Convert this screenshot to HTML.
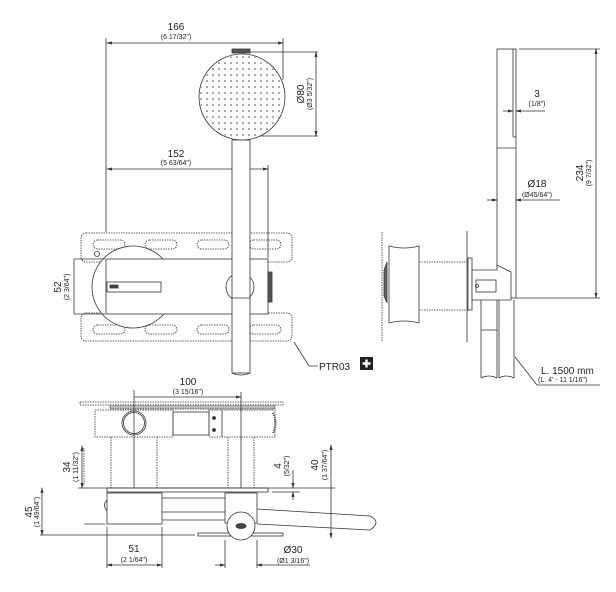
<!DOCTYPE html>
<html><head><meta charset="utf-8"><style>
html,body{margin:0;padding:0;background:#fff}
svg{display:block}
text{font-family:"Liberation Sans",sans-serif;fill:#222}
.t{font-size:10px}.s{font-size:7px}
</style></head><body>
<svg width="616" height="592" viewBox="0 0 616 592" xmlns="http://www.w3.org/2000/svg">
<defs>
<marker id="a" markerWidth="6" markerHeight="6" refX="5" refY="3" orient="auto-start-reverse" markerUnits="userSpaceOnUse"><path d="M0,1.5 L6,3 L0,4.5z" fill="#333"/></marker>
<pattern id="dots" width="6" height="6" patternUnits="userSpaceOnUse"><circle cx="3" cy="3" r="0.8" fill="#444"/></pattern>
<clipPath id="hc"><circle cx="242" cy="97" r="42"/></clipPath>
</defs>
<g stroke="#333" stroke-width="0.8" fill="none">
<!-- TOP VIEW -->
<line x1="106" y1="38" x2="106" y2="232"/>
<line x1="283" y1="38" x2="283" y2="80"/>
<line x1="107" y1="43" x2="283" y2="43" marker-start="url(#a)" marker-end="url(#a)"/>
<line x1="268" y1="165" x2="268" y2="258"/>
<line x1="107" y1="169" x2="268" y2="169" marker-start="url(#a)" marker-end="url(#a)"/>
<line x1="250" y1="52" x2="318" y2="52"/><line x1="250" y1="136" x2="318" y2="136"/>
<line x1="316" y1="52" x2="316" y2="136" marker-start="url(#a)" marker-end="url(#a)"/>
<rect x="232" y="49" width="18" height="4" fill="#555"/>
<circle cx="242" cy="97" r="43" fill="#fff"/>
<rect x="199" y="54" width="86" height="86" fill="url(#dots)" clip-path="url(#hc)" stroke="none"/>
<!-- plates -->
<rect x="81" y="233" width="211" height="29" rx="5" stroke-dasharray="1.5 1"/>
<rect x="81" y="313" width="211" height="28" rx="5" stroke-dasharray="1.5 1"/>
<g stroke-dasharray="1.5 1">
<rect x="93" y="240" width="32" height="9" rx="4.5"/><rect x="145" y="240" width="32" height="9" rx="4.5"/><rect x="197" y="240" width="32" height="9" rx="4.5"/><rect x="249" y="240" width="32" height="9" rx="4.5"/>
<rect x="93" y="325" width="32" height="9" rx="4.5"/><rect x="145" y="325" width="32" height="9" rx="4.5"/><rect x="197" y="325" width="32" height="9" rx="4.5"/><rect x="249" y="325" width="32" height="9" rx="4.5"/>
</g>
<circle cx="97" cy="254" r="2.5"/>
<circle cx="133" cy="287" r="41" fill="#fff"/>
<rect x="106" y="259" width="162" height="55" fill="#fff"/>
<rect x="107" y="282" width="54" height="10"/>
<rect x="110" y="285" width="8" height="3" fill="#444"/>
<rect x="268" y="272" width="4" height="30" fill="#555"/>
<circle cx="240" cy="287" r="14" fill="#fff"/>
<rect x="232" y="140" width="18" height="233" fill="#fff"/>
<path d="M232,298 L250,298"/>
<path d="M232,373 Q241,377 250,373"/>
<line x1="74" y1="259" x2="105" y2="259"/><line x1="74" y1="314" x2="105" y2="314"/>
<line x1="74" y1="259" x2="74" y2="314"/>
<path d="M294,342 L309,366 L318,366"/>
<!-- SIDE VIEW -->
<line x1="382" y1="232" x2="382" y2="342" stroke-dasharray="1.5 1"/>
<path d="M384,270 L387,262 L387,303 L384,296z" fill="#666"/>
<path d="M389,246 Q404,250 419,246 L419,323 Q404,319 389,323z" fill="#fff"/>
<line x1="419" y1="262" x2="468" y2="262" stroke-dasharray="1.5 1"/>
<line x1="419" y1="310" x2="468" y2="310" stroke-dasharray="1.5 1"/>
<line x1="467" y1="231" x2="467" y2="342"/>
<rect x="468" y="258" width="4" height="52"/>
<rect x="497" y="49" width="19" height="249" fill="#fff"/>
<line x1="513" y1="49" x2="513" y2="137"/><line x1="513" y1="137" x2="516" y2="137"/>
<line x1="497" y1="148" x2="516" y2="148"/>
<path d="M472,270 L497,270 L497,265 L511,272 L511,300 L472,300z" fill="#fff"/>
<rect x="476" y="280" width="20" height="12"/>
<circle cx="477" cy="286" r="1.5"/>
<path d="M481,300 L481,378 M497,300 L497,378 M499,300 L499,378 M514,300 L514,378"/>
<path d="M481,378 Q489,374 497,378 M499,378 Q506,374 514,378"/>
<line x1="481" y1="330" x2="497" y2="330"/>
<line x1="519" y1="49" x2="600" y2="49"/><line x1="516" y1="298" x2="600" y2="298"/>
<line x1="596" y1="49" x2="596" y2="298" marker-start="url(#a)" marker-end="url(#a)"/>
<line x1="503" y1="111" x2="513" y2="111" marker-end="url(#a)"/>
<line x1="516" y1="111" x2="545" y2="111" marker-start="url(#a)"/>
<line x1="487" y1="200" x2="497" y2="200" marker-end="url(#a)"/>
<line x1="516" y1="200" x2="560" y2="200" marker-start="url(#a)"/>
<path d="M515,357 L537,385 L600,385"/>
<!-- BOTTOM VIEW -->
<rect x="80" y="402" width="203" height="3" stroke-dasharray="1.5 1"/>
<rect x="110" y="405" width="165" height="4" fill="#bbb" stroke-dasharray="1.5 1"/>
<rect x="95" y="410" width="78" height="27" stroke-dasharray="1.5 1"/>
<rect x="173" y="412" width="36" height="23"/>
<rect x="209" y="410" width="66" height="27" stroke-dasharray="1.5 1"/>
<line x1="222" y1="410" x2="222" y2="437"/>
<circle cx="214" cy="418" r="1.5" fill="#333"/><circle cx="214" cy="430" r="1.5" fill="#333"/>
<path d="M273,413 Q278,423 273,433" stroke-width="2" stroke-dasharray="1 1"/>
<circle cx="134" cy="423" r="12"/><circle cx="134" cy="423" r="10.5"/>
<line x1="111" y1="437" x2="111" y2="488" stroke-dasharray="1.5 1"/>
<line x1="157" y1="437" x2="157" y2="488" stroke-dasharray="1.5 1"/>
<line x1="228" y1="437" x2="228" y2="488" stroke-dasharray="1.5 1"/>
<line x1="254" y1="437" x2="254" y2="488" stroke-dasharray="1.5 1"/>
<line x1="134" y1="390" x2="134" y2="488"/>
<line x1="241" y1="392" x2="241" y2="488"/>
<line x1="134" y1="397" x2="241" y2="397" marker-end="url(#a)"/>
<line x1="78" y1="488" x2="335" y2="488"/>
<rect x="107" y="488" width="161" height="4"/>
<rect x="107" y="493" width="55" height="31" fill="#fff"/>
<path d="M107,500 Q102,505 107,511"/>
<path d="M162,498 L225,498 M162,512 L225,512 M162,520 L225,520"/>
<rect x="225" y="493" width="32" height="30" fill="#fff"/>
<path d="M257,509 L370,516 Q382,522 370,530 L257,524"/>
<rect x="198" y="533" width="85" height="3" fill="#fff"/>
<circle cx="241" cy="526" r="14" fill="#fff"/>
<ellipse cx="241" cy="526" rx="5" ry="2.5" fill="#444"/>
<line x1="84" y1="448" x2="84" y2="486" stroke-dasharray="1.5 1"/>
<line x1="82" y1="446" x2="82" y2="488" marker-start="url(#a)" marker-end="url(#a)"/>
<line x1="42" y1="488" x2="42" y2="535" marker-start="url(#a)" marker-end="url(#a)"/>
<line x1="40" y1="535" x2="195" y2="535"/>
<line x1="84" y1="524" x2="105" y2="524"/>
<line x1="107" y1="527" x2="107" y2="568"/><line x1="162" y1="527" x2="162" y2="568"/>
<line x1="107" y1="565" x2="162" y2="565" marker-start="url(#a)" marker-end="url(#a)"/>
<line x1="225" y1="540" x2="225" y2="568"/><line x1="257" y1="540" x2="257" y2="568"/>
<line x1="215" y1="565" x2="225" y2="565" marker-end="url(#a)"/>
<line x1="257" y1="565" x2="310" y2="565" marker-start="url(#a)"/>
<line x1="272" y1="492" x2="300" y2="492"/>
<line x1="293" y1="470" x2="293" y2="488" marker-end="url(#a)"/>
<line x1="293" y1="492" x2="293" y2="500" marker-start="url(#a)"/>
<line x1="331" y1="445" x2="331" y2="538" marker-start="url(#a)" marker-end="url(#a)"/>
</g>
<rect x="360" y="357" width="13" height="13" fill="#222"/>
<path d="M366.5,359.5v8M362.5,363.5h8" stroke="#fff" stroke-width="2.4"/>
<!-- labels -->
<text class="t" x="176" y="30" text-anchor="middle">166</text>
<text class="s" x="176" y="39" text-anchor="middle">(6 17/32")</text>
<text class="t" x="176" y="157" text-anchor="middle">152</text>
<text class="s" x="176" y="165" text-anchor="middle">(5 63/64")</text>
<text class="t" transform="translate(304,94) rotate(-90)" text-anchor="middle">Ø80</text>
<text class="s" transform="translate(312,94) rotate(-90)" text-anchor="middle">(Ø3 5/32")</text>
<text class="t" transform="translate(61,287) rotate(-90)" text-anchor="middle">52</text>
<text class="s" transform="translate(69,287) rotate(-90)" text-anchor="middle">(2 3/64")</text>
<text class="t" x="319" y="370">PTR03</text>
<text class="t" x="537" y="97" text-anchor="middle">3</text>
<text class="s" x="537" y="106" text-anchor="middle">(1/8")</text>
<text class="t" x="537" y="187" text-anchor="middle">Ø18</text>
<text class="s" x="537" y="197" text-anchor="middle">(Ø45/64")</text>
<text class="t" transform="translate(583,173) rotate(-90)" text-anchor="middle">234</text>
<text class="s" transform="translate(591,173) rotate(-90)" text-anchor="middle">(9 7/32")</text>
<text class="t" x="541" y="374">L. 1500 mm</text>
<text class="s" x="538" y="382">(L. 4' - 11 1/16")</text>
<text class="t" x="188" y="385" text-anchor="middle">100</text>
<text class="s" x="188" y="394" text-anchor="middle">(3 15/16")</text>
<text class="t" transform="translate(70,467) rotate(-90)" text-anchor="middle">34</text>
<text class="s" transform="translate(78,467) rotate(-90)" text-anchor="middle">(1 11/32")</text>
<text class="t" transform="translate(32,512) rotate(-90)" text-anchor="middle">45</text>
<text class="s" transform="translate(39,512) rotate(-90)" text-anchor="middle">(1 49/64")</text>
<text class="t" transform="translate(281,466) rotate(-90)" text-anchor="middle">4</text>
<text class="s" transform="translate(289,466) rotate(-90)" text-anchor="middle">(5/32")</text>
<text class="t" transform="translate(318,465) rotate(-90)" text-anchor="middle">40</text>
<text class="s" transform="translate(327,465) rotate(-90)" text-anchor="middle">(1 37/64")</text>
<text class="t" x="134" y="552" text-anchor="middle">51</text>
<text class="s" x="134" y="562" text-anchor="middle">(2 1/64")</text>
<text class="t" x="293" y="553" text-anchor="middle">Ø30</text>
<text class="s" x="293" y="563" text-anchor="middle">(Ø1 3/16")</text>
</svg>
</body></html>
